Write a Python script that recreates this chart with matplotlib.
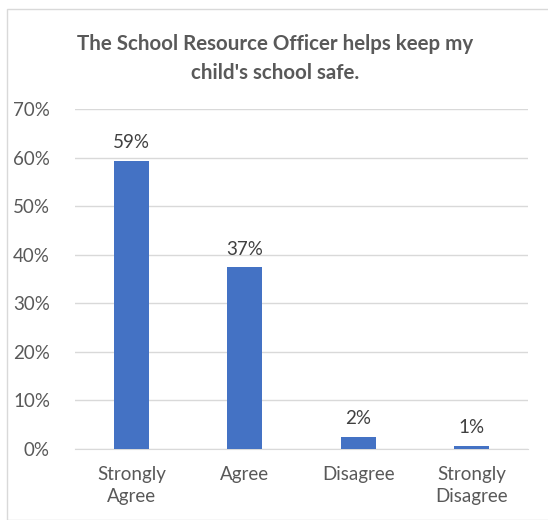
import numpy as np
import matplotlib.pyplot as plt
from matplotlib.patches import Rectangle

plt.rcParams['font.family'] = ['Lato', 'DejaVu Sans']

# 数据
categories = ['Strongly\nAgree', 'Agree', 'Disagree', 'Strongly\nDisagree']
values = [59.3, 37.4, 2.5, 0.7]
labels = ['59%', '37%', '2%', '1%']
yticks = [0, 10, 20, 30, 40, 50, 60, 70]

W, H = 548, 520
fig = plt.figure(figsize=(W / 100, H / 100), dpi=100)

# 图表外框
fig.patches.append(Rectangle((7 / W, 0), 1, 1 - 9 / H, transform=fig.transFigure,
                             fill=False, edgecolor='#d9d9d9', linewidth=1))

# 绘图区 (像素坐标)
left, right, top, bottom = 75, 528, 109, 449
ax = fig.add_axes([left / W, 1 - bottom / H, (right - left) / W, (bottom - top) / H])

x = np.arange(len(categories))
ax.bar(x, values, width=0.31, color='#4472c4', zorder=3)

for xi, v, lab in zip(x, values, labels):
    ax.text(xi, v + 2.0, lab, ha='center', va='bottom', fontsize=13.5, color='#404040')

ax.set_xlim(-0.5, len(categories) - 0.5)
ax.set_ylim(0, 70)
ax.set_yticks(yticks)
ax.set_yticklabels([f'{t}%' for t in yticks], fontsize=13.5, color='#595959')
ax.set_xticks(x)
ax.set_xticklabels(categories, fontsize=13.5, color='#595959', linespacing=1.35)
ax.tick_params(axis='both', length=0)
ax.tick_params(axis='y', pad=18)
ax.tick_params(axis='x', pad=12)

ax.grid(axis='y', color='#d9d9d9', linewidth=1, zorder=0)
for s in ['top', 'right', 'left']:
    ax.spines[s].set_visible(False)
ax.spines['bottom'].set_color('#d9d9d9')

fig.text(275 / W, 1 - 58.5 / H, "The School Resource Officer helps keep my\nchild's school safe.",
         ha='center', va='center', fontsize=14.8, fontweight='bold', color='#595959',
         linespacing=1.55)

plt.savefig('out.png', dpi=100)
